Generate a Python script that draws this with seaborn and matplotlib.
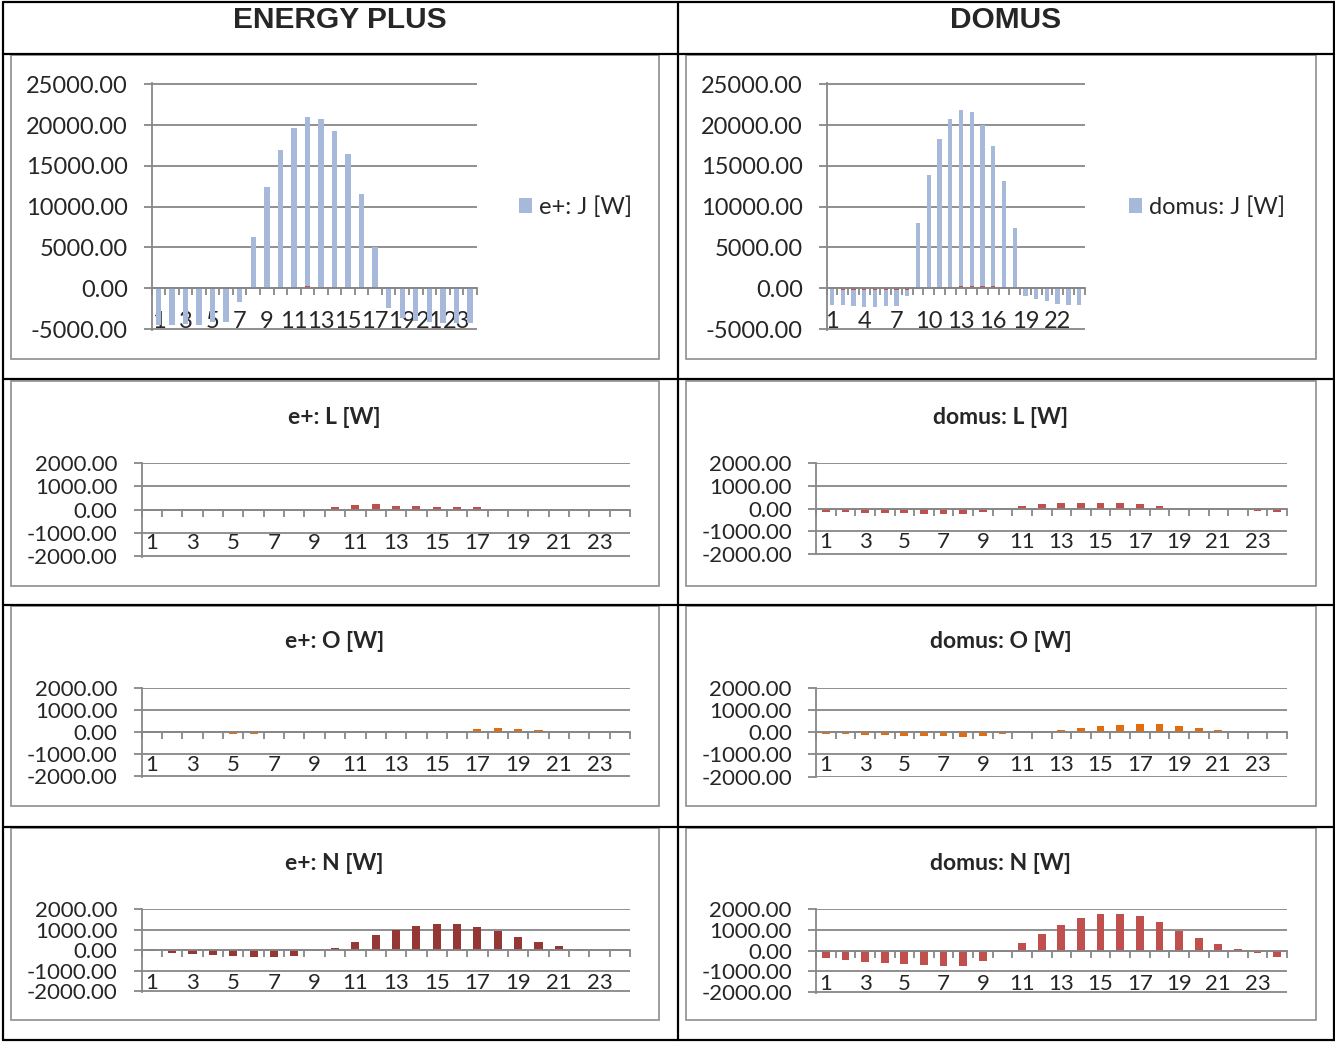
import numpy as np
import pandas as pd
import matplotlib
matplotlib.use("Agg")
import matplotlib.pyplot as plt
from matplotlib.ticker import FuncFormatter
from matplotlib.patches import Rectangle
import seaborn as sns

sns.set_theme(style="white")
plt.rcParams["font.family"] = ["Lato", "DejaVu Sans"]

# Hourly values (hour 1..24), watts
hours = [str(h) for h in range(1, 25)]

ep_J = [-4500, -4500, -4400, -4500, -4100, -4100, -1700, 6300, 12400, 16900, 19700, 21000,
        20800, 19300, 16400, 11600, 5100, -2400, -3600, -4000, -4200, -4300, -4300, -4300]
dm_J = [-2000, -2100, -2200, -2350, -2250, -2200, -2150, -900, 7950, 13900, 18250, 20750,
        21850, 21550, 20050, 17400, 13150, 7400, -950, -1300, -1600, -1900, -2000, -2000]

ep_L = [-10, -20, -25, -30, -50, -50, -50, -30, -10, 110, 195, 220,
        165, 140, 110, 100, 100, 40, 0, 0, 0, 0, 0, -20]
dm_L = [-140, -160, -175, -190, -200, -220, -220, -220, -130, 0, 100, 190,
        230, 245, 245, 230, 190, 115, 45, 0, -10, -20, -90, -130]

ep_O = [0, 0, -20, -40, -60, -60, -40, 0, 0, 0, 0, 0,
        0, 0, 0, 75, 150, 180, 150, 90, 0, 0, 0, 0]
dm_O = [-60, -75, -120, -135, -165, -180, -180, -210, -150, -90, 0, 0,
        105, 195, 270, 345, 390, 375, 270, 210, 120, 0, 0, -20]

ep_N = [-10, -110, -180, -240, -270, -300, -320, -270, -10, 95, 385, 725,
        1015, 1210, 1305, 1275, 1145, 920, 660, 420, 225, 80, 0, 0]
dm_N = [-355, -435, -530, -600, -660, -710, -725, -740, -500, -60, 370, 820,
        1260, 1565, 1760, 1775, 1680, 1390, 970, 600, 320, 80, -120, -290]

col_headers = ["ENERGY PLUS", "DOMUS"]

C_J = "#A7B9DA"
C_L = "#C0504D"
C_O = "#E46C0A"
C_N_EP = "#953735"
C_N_DM = "#C0504D"
GRID = "#878787"

W, H = 1335, 1042
PT = 72 / 100  # points per pixel

fig = plt.figure(figsize=(W / 100, H / 100), dpi=100)

# table grid and chart frames
bg = fig.add_axes([0, 0, 1, 1], zorder=-5)
bg.set_xlim(0, W)
bg.set_ylim(H, 0)
bg.axis("off")
for y in [1.5, 53.5, 379, 604.5, 826.5, 1040]:
    bg.plot([2.5, W], [y, y], color="black", lw=1.6)
for x in [2.5, 677.5, 1334]:
    bg.plot([x, x], [1.5, 1040], color="black", lw=1.6)
for (y0, y1) in [(55, 359), (381, 586), (606, 806), (828, 1020)]:
    for (x0, x1) in [(11, 659), (686, 1316)]:
        bg.add_patch(Rectangle((x0, y0), x1 - x0, y1 - y0, fill=False,
                               edgecolor="#8E8E8E", lw=1.2))
bg.text(340, 20, col_headers[0], ha="center", va="center", fontsize=21.5,
        fontweight="bold", family=["Liberation Sans", "DejaVu Sans"])
bg.text(1006, 20, col_headers[1], ha="center", va="center", fontsize=21.5,
        fontweight="bold", family=["Liberation Sans", "DejaVu Sans"])


def px_axes(x0, x1, y_top, y_bot):
    return fig.add_axes([x0 / W, 1 - y_bot / H, (x1 - x0) / W, (y_bot - y_top) / H])


def style(ax, lo, hi, step, every, fs):
    pad = (hi - lo) * 0.004
    ax.set_ylim(lo - pad, hi + pad)
    ax.set_xlim(-0.5, 23.5)
    ax.set_yticks(np.arange(lo, hi + 1, step))
    ax.yaxis.set_major_formatter(FuncFormatter(lambda v, p: f"{v:.2f}"))
    ax.grid(axis="y", color=GRID, lw=1.3)
    ax.grid(axis="x", visible=False)
    ax.set_axisbelow(True)
    ax.set_facecolor("none")
    for s in ["top", "right"]:
        ax.spines[s].set_visible(False)
    ax.spines["left"].set_color(GRID)
    ax.spines["left"].set_linewidth(1.3)
    ax.spines["bottom"].set_position(("data", 0))
    ax.spines["bottom"].set_color(GRID)
    ax.spines["bottom"].set_linewidth(1.3)
    ax.tick_params(axis="y", which="major", length=8 * PT, width=1.3, color=GRID,
                   pad=16 * PT, labelsize=fs, left=True)
    ticks = list(range(0, 24, every))
    ax.set_xticks(ticks)
    ax.set_xticklabels([hours[i] for i in ticks])
    ax.set_xticks(np.arange(-0.5, 24, 1), minor=True)
    ax.tick_params(axis="x", which="major", length=0, pad=23 * PT, labelsize=fs)
    ax.tick_params(axis="x", which="minor", length=7 * PT, width=1.3, color=GRID,
                   direction="out", bottom=True)
    ax.set_xlabel("")
    ax.set_ylabel("")


def bars(ax, vals, color, label=None):
    df = pd.DataFrame({"hour": hours, "value": vals})
    sns.barplot(data=df, x="hour", y="value", order=hours, color=color, width=0.4,
                saturation=1, errorbar=None, linewidth=0, ax=ax, label=label)


# Row 1: J
ax = px_axes(151.7, 476.7, 83.3, 330)
bars(ax, ep_J, C_J, "e+: J [W]")
bars(ax, ep_L, C_L)
style(ax, -5000, 25000, 5000, 2, 17)
h, l = ax.get_legend_handles_labels()
ax.legend(h[:1], l[:1], loc="center left", bbox_to_anchor=(519 / W, 1 - 207 / H),
          bbox_transform=fig.transFigure, frameon=False, fontsize=17, borderpad=0,
          borderaxespad=0, handlelength=0.56, handleheight=0.56, handletextpad=0.3)

ax = px_axes(826.7, 1084.5, 83.3, 330)
bars(ax, dm_J, C_J, "domus: J [W]")
bars(ax, dm_L, C_L)
style(ax, -5000, 25000, 5000, 3, 17)
h, l = ax.get_legend_handles_labels()
ax.legend(h[:1], l[:1], loc="center left", bbox_to_anchor=(1129 / W, 1 - 207 / H),
          bbox_transform=fig.transFigure, frameon=False, fontsize=17, borderpad=0,
          borderaxespad=0, handlelength=0.56, handleheight=0.56, handletextpad=0.3)

# Rows 2-4: L, O, N
rows = [
    ("L", ep_L, dm_L, C_L, C_L, (462.7, 556.5), (462.7, 554.5), 417),
    ("O", ep_O, dm_O, C_O, C_O, (687.7, 776.7), (687.7, 777), 641),
    ("N", ep_N, dm_N, C_N_EP, C_N_DM, (909, 991.7), (909, 992.5), 863),
]
for name, ev, dv, ce, cd, ey, dy, ty in rows:
    ax = px_axes(141.7, 630, ey[0], ey[1])
    bars(ax, ev, ce)
    style(ax, -2000, 2000, 1000, 2, 16)
    bg.text(334.5, ty, f"e+: {name} [W]", ha="center", va="center",
            fontsize=16.5, fontweight="bold")

    ax = px_axes(816, 1287, dy[0], dy[1])
    bars(ax, dv, cd)
    style(ax, -2000, 2000, 1000, 2, 16)
    bg.text(1000.5, ty, f"domus: {name} [W]", ha="center", va="center",
            fontsize=16.5, fontweight="bold")

fig.savefig("out.png", dpi=100)
